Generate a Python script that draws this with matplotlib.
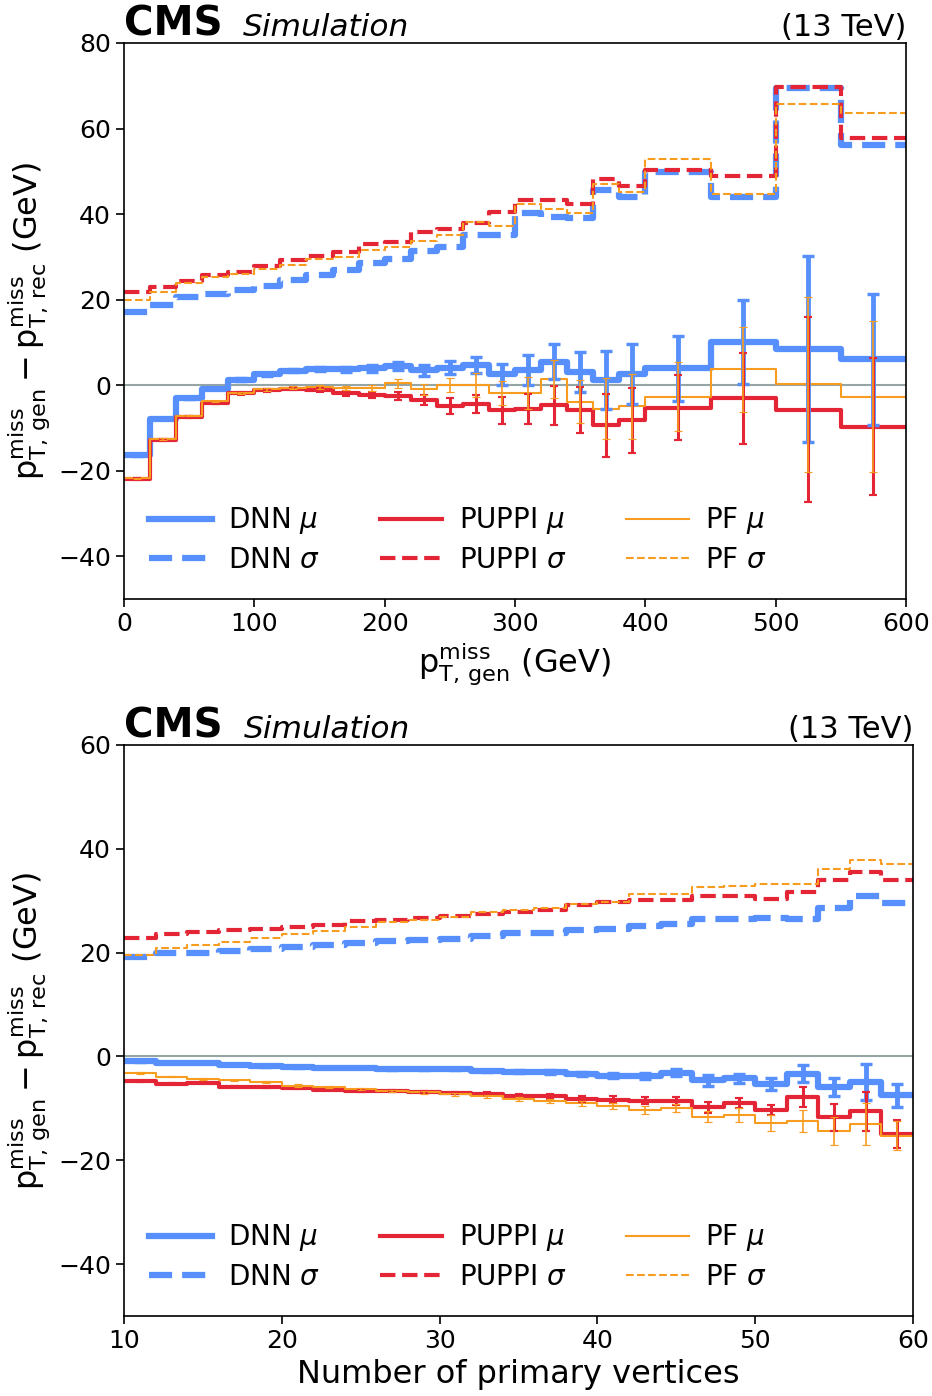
import numpy as np
import matplotlib
matplotlib.use("Agg")
import matplotlib.pyplot as plt
from matplotlib.transforms import offset_copy

# colours (CMS palette)
c_dnn = "#5790fc"
c_puppi = "#e42536"
c_pf = "#f89c20"

# ---- top panel: response vs generated pTmiss ----
pt_edges = [0, 20, 40, 60, 80, 100, 120, 140, 160, 180, 200, 220, 240, 260, 280,
            300, 320, 340, 360, 380, 400, 450, 500, 550, 600]

dnn_mu_pt = [-16.4, -7.8, -3.1, -0.8, 1.3, 2.5, 3.4, 3.7, 3.7, 3.9, 4.5, 3.5, 4.1, 4.7,
             2.5, 3.5, 5.5, 3.1, 1.2, 2.6, 3.9, 10.1, 8.4, 6.0]
dnn_err_pt = [0.2, 0.2, 0.2, 0.2, 0.3, 0.3, 0.4, 0.5, 0.6, 0.8, 1.0, 1.3, 1.6, 1.9,
              2.4, 3.5, 4.1, 4.7, 6.7, 7.0, 7.5, 9.8, 21.7, 15.4]
dnn_sig_pt = [17.2, 18.7, 20.5, 21.4, 22.2, 23.2, 24.6, 25.7, 26.9, 28.5, 29.5, 31.3,
              32.4, 35.1, 35.1, 40.2, 39.4, 39.0, 45.6, 44.0, 49.9, 44.0, 69.4, 56.1]

puppi_mu_pt = [-22.0, -12.9, -7.4, -4.1, -1.9, -1.2, -0.8, -1.2, -1.9, -2.2, -2.6, -3.5,
               -4.9, -4.4, -5.9, -5.6, -4.7, -5.8, -9.4, -8.2, -5.3, -3.1, -5.7, -9.7]
puppi_err_pt = [0.2, 0.2, 0.2, 0.2, 0.3, 0.3, 0.4, 0.5, 0.6, 0.7, 0.9, 1.1, 1.8, 2.0,
                3.1, 3.5, 4.5, 5.3, 7.3, 7.6, 7.6, 10.7, 21.7, 16.0]
puppi_sig_pt = [21.7, 23.0, 24.3, 25.7, 26.4, 27.9, 29.2, 30.3, 31.2, 33.0, 33.5, 35.7,
                36.5, 37.8, 40.4, 43.4, 43.4, 42.3, 48.1, 46.5, 50.3, 48.9, 69.8, 57.9]

pf_mu_pt = [-21.8, -12.6, -7.1, -3.8, -1.8, -1.0, -0.6, -0.4, -0.6, -0.6, 0.4, -1.0,
            0.0, 0.0, -1.9, -1.8, 1.5, -3.9, -5.5, -4.9, -2.7, 3.7, 0.2, -2.7]
pf_err_pt = [0.2, 0.2, 0.2, 0.2, 0.3, 0.3, 0.3, 0.4, 0.5, 0.7, 1.05, 1.2, 1.6, 2.8,
             2.8, 3.7, 4.4, 5.0, 7.1, 7.6, 8.0, 10.0, 20.5, 17.6]
pf_sig_pt = [19.9, 21.7, 24.0, 25.3, 26.1, 27.1, 28.1, 29.4, 30.0, 31.6, 32.4, 33.8,
             35.1, 38.2, 37.3, 42.3, 41.3, 40.3, 47.0, 45.2, 52.8, 44.7, 65.7, 63.6]

# ---- bottom panel: response vs number of primary vertices ----
npv_edges = list(range(10, 62, 2))

dnn_mu_npv = [-0.9, -1.2, -1.2, -1.6, -1.9, -2.1, -2.2, -2.2, -2.4, -2.4, -2.5, -2.8,
              -2.9, -3.0, -3.3, -3.7, -3.7, -3.1, -4.6, -4.2, -5.3, -3.3, -5.9, -4.9, -7.5]
dnn_err_npv = [0.1, 0.1, 0.1, 0.1, 0.1, 0.1, 0.1, 0.1, 0.15, 0.2, 0.2, 0.2, 0.3, 0.3,
               0.4, 0.5, 0.6, 0.7, 1.0, 0.9, 1.2, 1.7, 1.7, 3.4, 2.2]
dnn_sig_npv = [19.1, 19.9, 20.0, 20.4, 20.7, 21.1, 21.4, 21.8, 22.2, 22.5, 22.7, 23.2,
               23.7, 23.8, 24.3, 24.6, 25.2, 25.6, 26.4, 26.4, 26.7, 26.4, 28.6, 31.0, 29.5]

puppi_mu_npv = [-4.8, -5.3, -5.1, -5.8, -5.9, -6.1, -6.4, -6.6, -6.7, -6.8, -7.1, -7.2,
                -7.6, -7.7, -8.2, -8.3, -8.5, -8.6, -9.8, -9.0, -10.3, -7.8, -11.7, -10.6, -14.9]
puppi_err_npv = [0.1, 0.1, 0.1, 0.1, 0.1, 0.1, 0.1, 0.2, 0.2, 0.2, 0.2, 0.3, 0.3, 0.4,
                 0.5, 0.6, 0.7, 0.8, 1.1, 1.0, 1.0, 1.9, 2.6, 3.7, 2.7]
puppi_sig_npv = [22.9, 23.6, 24.0, 24.3, 24.6, 25.0, 25.4, 26.0, 26.2, 26.6, 27.0, 27.5,
                 27.9, 28.2, 29.1, 29.7, 30.1, 30.1, 31.0, 30.9, 30.4, 31.7, 33.9, 35.6, 33.9]

pf_mu_npv = [-3.2, -3.9, -4.3, -4.6, -4.9, -5.6, -5.9, -6.2, -6.7, -6.9, -7.3, -7.7,
             -8.2, -8.5, -9.0, -9.6, -10.3, -9.9, -11.6, -11.3, -12.8, -12.4, -14.3, -13.0, -15.3]
pf_err_npv = [0.15, 0.15, 0.15, 0.15, 0.15, 0.2, 0.2, 0.2, 0.2, 0.25, 0.3, 0.3, 0.35,
              0.4, 0.5, 0.6, 0.7, 0.8, 1.0, 1.3, 1.6, 2.1, 2.7, 4.1, 2.8]
pf_sig_npv = [19.5, 20.9, 21.4, 22.0, 22.8, 23.5, 24.1, 25.0, 25.9, 26.3, 26.8, 27.8,
              28.3, 28.6, 29.4, 29.7, 31.3, 31.3, 32.6, 32.9, 33.3, 33.3, 36.2, 37.9, 37.1]


def draw_panel(fig, ax, edges, dnn, puppi, pf):
    centers = 0.5 * (np.array(edges[1:]) + np.array(edges[:-1]))
    ax.axhline(0, color="#95a5a6", lw=1.5, zorder=0)
    styles = [("DNN", c_dnn, 4.5, 3.5, 4.3), ("PUPPI", c_puppi, 3.0, 2.2, 3.0),
              ("PF", c_pf, 1.5, 1.2, 3.0)]
    for (name, col, lw, elw, cap), (mu, err, sig) in zip(styles, [dnn, puppi, pf]):
        ax.stairs(mu, edges, baseline=None, color=col, lw=lw, joinstyle="round",
                  label=name + r" $\mu$")
        ax.errorbar(centers, mu, yerr=err, fmt="none", ecolor=col, elinewidth=elw,
                    capsize=cap, capthick=elw * 0.7)
        ax.stairs(sig, edges, baseline=None, color=col, lw=lw, ls="--",
                  joinstyle="round", label=name + r" $\sigma$")
    ax.tick_params(labelsize=18, length=6, width=1.2)
    for s in ax.spines.values():
        s.set_linewidth(1.2)
    ax.set_ylabel(r"$\mathrm{p_{T,\,gen}^{miss} - p_{T,\,rec}^{miss}}$ (GeV)", fontsize=23)
    ax.legend(loc="lower left", ncol=3, fontsize=20, frameon=False, handlelength=2.25,
              handletextpad=0.6, columnspacing=2.15, labelspacing=0.35)
    tr = offset_copy(ax.transAxes, fig=fig, y=7, units="dots")
    ax.text(0, 1.0, "CMS", transform=tr, fontsize=29, fontweight="bold",
            ha="left", va="baseline")
    ax.text(0.152, 1.0, "Simulation", transform=tr, fontsize=22.5,
            style="italic", ha="left", va="baseline")
    ax.text(1.0, 1.0, "(13 TeV)", transform=tr, fontsize=22,
            ha="right", va="baseline")


fig = plt.figure(figsize=(9.32, 13.96), dpi=100)

ax1 = fig.add_axes([124 / 932, 1 - 599 / 1396, 782 / 932, 556 / 1396])
draw_panel(fig, ax1, pt_edges, (dnn_mu_pt, dnn_err_pt, dnn_sig_pt),
           (puppi_mu_pt, puppi_err_pt, puppi_sig_pt), (pf_mu_pt, pf_err_pt, pf_sig_pt))
ax1.set_xlim(0, 600)
ax1.set_ylim(-50, 80)
ax1.set_yticks([-40, -20, 0, 20, 40, 60, 80])
ax1.set_xlabel(r"$\mathrm{p_{T,\,gen}^{miss}}$ (GeV)", fontsize=23)

ax2 = fig.add_axes([124 / 932, 1 - 1316 / 1396, 789 / 932, 571 / 1396])
draw_panel(fig, ax2, npv_edges, (dnn_mu_npv, dnn_err_npv, dnn_sig_npv),
           (puppi_mu_npv, puppi_err_npv, puppi_sig_npv), (pf_mu_npv, pf_err_npv, pf_sig_npv))
ax2.set_xlim(10, 60)
ax2.set_ylim(-50, 60)
ax2.set_yticks([-40, -20, 0, 20, 40, 60])
ax2.set_xlabel("Number of primary vertices", fontsize=23)

fig.savefig("out.png", dpi=100)
